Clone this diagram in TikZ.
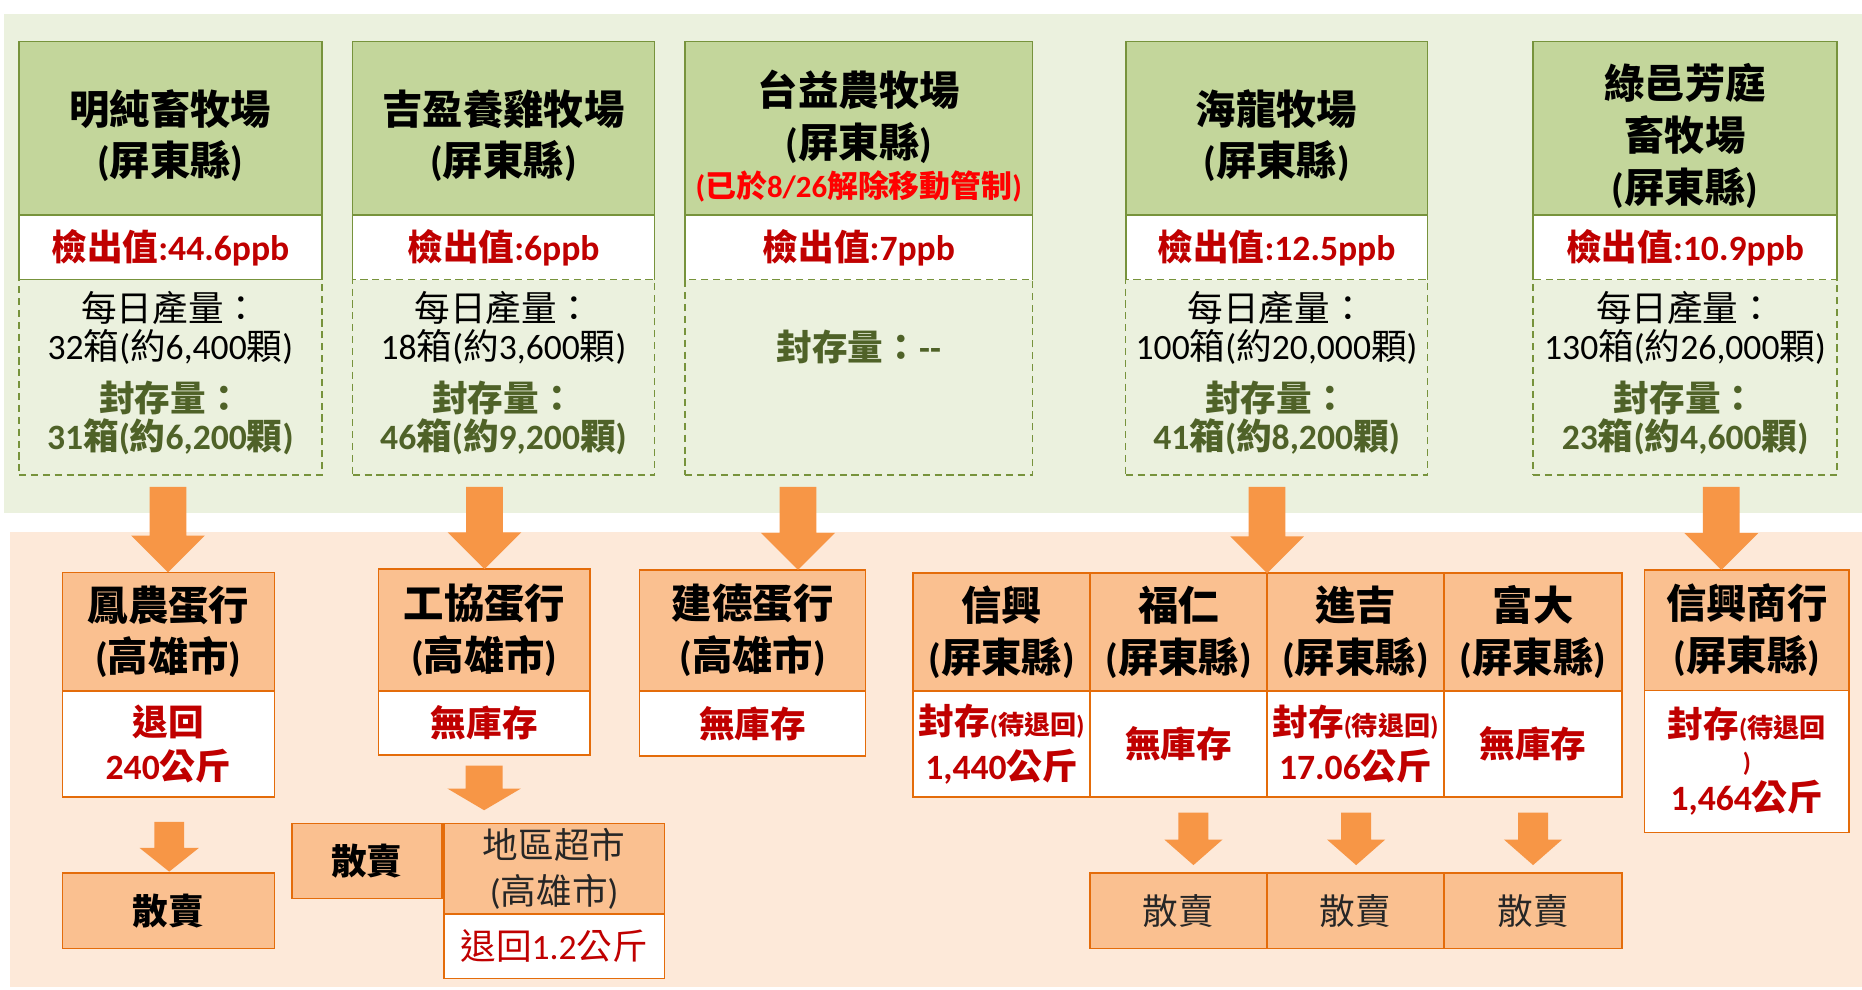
\documentclass[tikz,border=0pt]{standalone}
\usepackage{fontspec}
\setmainfont{Carlito}
\newfontfamily\latfont{Carlito}
\newfontfamily\cjkfont{Noto Sans CJK TC}
\usetikzlibrary{calc}
\XeTeXinterchartokenstate=1
\newXeTeXintercharclass\CJKcls
\newcount\cjkcc
\cjkcc="2E80
\loop \XeTeXcharclass\cjkcc=\CJKcls \advance\cjkcc by 1 \ifnum\cjkcc<"A000 \repeat
\cjkcc="FF00
\loop \XeTeXcharclass\cjkcc=\CJKcls \advance\cjkcc by 1 \ifnum\cjkcc<"FFF0 \repeat
\XeTeXinterchartoks 0 \CJKcls = {\cjkfont}
\XeTeXinterchartoks 4095 \CJKcls = {\cjkfont}
\XeTeXinterchartoks \CJKcls 0 = {\latfont}
\XeTeXinterchartoks \CJKcls 4095 = {\latfont}

\definecolor{cGband}{HTML}{EBF1DE}
\definecolor{cGfill}{HTML}{C3D69B}
\definecolor{cGline}{HTML}{77933C}
\definecolor{cOlive}{HTML}{4F6228}
\definecolor{cDred}{HTML}{C00000}
\definecolor{cBred}{HTML}{FF0000}
\definecolor{cPband}{HTML}{FDE9D9}
\definecolor{cOfill}{HTML}{FAC090}
\definecolor{cOline}{HTML}{E46C0A}
\definecolor{cArrow}{HTML}{F79646}

\tikzset{
 wh/.style 2 args={minimum width=#1pt, minimum height=#2pt},
 gbox/.style={draw=cGline, fill=cGfill, line width=1.3pt, inner sep=0pt, outer sep=0pt},
 gval/.style={draw=cGline, fill=white, line width=1.3pt, inner sep=0pt, outer sep=0pt, font=\bfseries\fontsize{30}{36}\selectfont, text=cDred},
 gvalo/.style={gval, draw=none},
 gside/.style={draw=cGline, line width=1.3pt},
 gdash/.style={draw=cGline, line width=1.2pt, dash pattern=on 6pt off 4pt, inner sep=0pt, outer sep=0pt},
 obox/.style={draw=cOline, fill=cOfill, line width=1.3pt, inner sep=0pt, outer sep=0pt, align=center, font=\bfseries\fontsize{34}{43.5}\selectfont},
 oval/.style={draw=cOline, fill=white, line width=1.3pt, inner sep=0pt, outer sep=0pt, align=center, text=cDred, font=\bfseries\fontsize{30}{37.5}\selectfont},
 sbox/.style={draw=cOline, fill=cOfill, line width=1.3pt, inner sep=0pt, outer sep=0pt, align=center, font=\bfseries\fontsize{30}{36}\selectfont},
 sboxr/.style={draw=cOline, fill=cOfill, line width=1.3pt, inner sep=0pt, outer sep=0pt, align=center, font=\fontsize{30}{39}\selectfont, text=black!85},
 ttl/.style={inner sep=0pt, align=center, font=\bfseries\fontsize{34}{43.5}\selectfont},
 prod/.style={inner sep=0pt, align=center, font=\fontsize{30}{32}\selectfont},
 seal/.style={inner sep=0pt, align=center, font=\bfseries\fontsize{30}{32}\selectfont, text=cOlive},
}
% #1 x, #2 src, #3 dst, #4 top gap, #5 tip gap, #6 shaft half, #7 head half, #8 head length
\newcommand\blkarrow[8]{%
 \fill[cArrow] let \p1=(#2.south), \p2=(#3.north) in
 ({#1pt-#6pt},{\y1-#4pt}) -- ({#1pt+#6pt},{\y1-#4pt}) -- ({#1pt+#6pt},{\y2+#5pt+#8pt}) -- ({#1pt+#7pt},{\y2+#5pt+#8pt}) -- ({#1pt},{\y2+#5pt}) -- ({#1pt-#7pt},{\y2+#5pt+#8pt}) -- ({#1pt-#6pt},{\y2+#5pt+#8pt}) -- cycle;}
\newcommand\sm{\fontsize{22}{26}\selectfont}
\newcommand\threesides[1]{\draw[gside] (#1.south west) -- (#1.north west) -- (#1.north east) -- (#1.south east);}

\begin{document}
\begin{tikzpicture}[x=1pt,y=-1pt]
\useasboundingbox (0,0) rectangle (1568,833);
\fill[white] (0,0) rectangle (1568,833);
\fill[cGband] (3,12) rectangle (1568,432);
\fill[cPband] (8,448) rectangle (1568,831);

% ---- farms ----
\node[gdash, wh={255}{164.5}] (f1d) at (143.5,317.75) {};
\node[gbox, wh={255}{146}] (f1h) at (143.5,108) {};
\node[gval, wh={255}{54.5}] (f1v) at (143.5,208.25) {檢出值:44.6ppb};
\node[ttl] (f1t) at (143.5,114.3) {明純畜牧場\\(屏東縣)};
\node[prod] (f1p) at (143.5,276) {每日產量：\\32箱(約6,400顆)};
\node[seal] (f1s) at (143.5,352) {封存量：\\31箱(約6,200顆)};

\node[gvalo, wh={254}{54.5}] (f2v) at (424,208.25) {檢出值:6ppb};
\node[gdash, wh={254}{164.5}] (f2d) at (424,317.75) {};
\threesides{f2v}
\node[gbox, wh={254}{146}] (f2h) at (424,108) {};
\node[ttl] (f2t) at (424,114.3) {吉盈養雞牧場\\(屏東縣)};
\node[prod] (f2p) at (424,276) {每日產量：\\18箱(約3,600顆)};
\node[seal] (f2s) at (424,352) {封存量：\\46箱(約9,200顆)};

\node[gvalo, wh={292.5}{54.5}] (f3v) at (723.25,208.25) {檢出值:7ppb};
\node[gdash, wh={292.5}{164.5}] (f3d) at (723.25,317.75) {};
\threesides{f3v}
\node[gbox, wh={292.5}{146}] (f3h) at (723.25,108) {};
\node[ttl] (f3t) at (723.25,98.5) {台益農牧場\\(屏東縣)};
\node[inner sep=0pt, font=\bfseries\fontsize{26}{30}\selectfont, text=cBred] (f3n) at (723.25,157) {(已於8/26解除移動管制)};
\node[seal] (f3s) at (723.25,292) {封存量：-{}-};

\node[gvalo, wh={254}{54.5}] (f4v) at (1075,208.25) {檢出值:12.5ppb};
\node[gdash, wh={254}{164.5}] (f4d) at (1075,317.75) {};
\threesides{f4v}
\node[gbox, wh={254}{146}] (f4h) at (1075,108) {};
\node[ttl] (f4t) at (1075,114.3) {海龍牧場\\(屏東縣)};
\node[prod] (f4p) at (1075,276) {每日產量：\\100箱(約20,000顆)};
\node[seal] (f4s) at (1075,352) {封存量：\\41箱(約8,200顆)};

\node[gvalo, wh={256}{54.5}] (f5v) at (1419,208.25) {檢出值:10.9ppb};
\node[gdash, wh={256}{164.5}] (f5d) at (1419,317.75) {};
\threesides{f5v}
\node[gbox, wh={256}{146}] (f5h) at (1419,108) {};
\node[ttl, font=\bfseries\fontsize{34}{44}\selectfont] (f5t) at (1419,114.5) {綠邑芳庭\\畜牧場\\(屏東縣)};
\node[prod] (f5p) at (1419,276) {每日產量：\\130箱(約26,000顆)};
\node[seal] (f5s) at (1419,352) {封存量：\\23箱(約4,600顆)};

% ---- egg dealers ----
\node[obox, wh={178.4}{99.8}] (n1h) at (141.8,531.9) {鳳農蛋行\\(高雄市)};
\node[oval, wh={178.4}{89.2}] (n1v) at (141.8,626.4) {退回\\240公斤};
\node[sbox, wh={178.4}{63.7}] (s1) at (141.8,766.85) {散賣};

\node[obox, wh={178.2}{102.5}] (n2h) at (407.9,530.55) {工協蛋行\\(高雄市)};
\node[oval, wh={178.2}{53.9}] (n2v) at (407.9,608.75) {無庫存};
\node[sbox, wh={126}{63.2}] (s2) at (309,724.9) {散賣};
\node[sboxr, wh={185.4}{76.4}] (mkh) at (466.7,731.5) {地區超市\\(高雄市)};
\node[oval, wh={185.4}{54.3}, font=\fontsize{30}{36}\selectfont] (mkv) at (466.7,796.85) {退回1.2公斤};

\node[obox, wh={190.3}{102}] (n3h) at (633.85,530.8) {建德蛋行\\(高雄市)};
\node[oval, wh={190.3}{54.8}] (n3v) at (633.85,609.2) {無庫存};

\node[obox, wh={149}{99.2}] (t1h) at (843.5,532.3) {信興\\(屏東縣)};
\node[obox, wh={149}{99.2}] (t2h) at (992.5,532.3) {福仁\\(屏東縣)};
\node[obox, wh={149}{99.2}] (t3h) at (1141.5,532.3) {進吉\\(屏東縣)};
\node[obox, wh={150}{99.2}] (t4h) at (1291,532.3) {富大\\(屏東縣)};
\node[oval, wh={149}{89.1}] (t1v) at (843.5,626.45) {封存{\sm(待退回)}\\1,440公斤};
\node[oval, wh={149}{89.1}] (t2v) at (992.5,626.45) {無庫存};
\node[oval, wh={149}{89.1}] (t3v) at (1141.5,626.45) {封存{\sm(待退回)}\\17.06公斤};
\node[oval, wh={150}{89.1}] (t4v) at (1291,626.45) {無庫存};
\node[sboxr, wh={149}{63.7}] (r2) at (992.5,766.85) {散賣};
\node[sboxr, wh={149}{63.7}] (r3) at (1141.5,766.85) {散賣};
\node[sboxr, wh={150}{63.7}] (r4) at (1291,766.85) {散賣};

\node[obox, wh={172}{101.6}] (n8h) at (1471,530.8) {信興商行\\(屏東縣)};
\node[oval, wh={172}{119.4}, font=\bfseries\fontsize{30}{33.6}\selectfont] (n8v) at (1471,641.3) {封存{\sm(待退回}\\[-5.6pt]{\sm)}\\1,464公斤};

% ---- arrows ----
\blkarrow{141.5}{f1d}{n1h}{10}{0}{15.5}{31}{31}
\blkarrow{408}{f2d}{n2h}{10}{0}{15.5}{31}{31}
\blkarrow{672}{f3d}{n3h}{10}{0}{15.5}{31}{31}
\blkarrow{1067}{f4d}{t2h}{10}{0}{15.5}{31}{31}
\blkarrow{1449.5}{f5d}{n8h}{10}{0}{15.5}{31}{31}
\blkarrow{142.5}{n1v}{s1}{21}{1}{12.5}{25}{20}
\blkarrow{407.7}{n2v}{mkh}{9}{11}{15.5}{31}{18.3}
\blkarrow{1005}{t2v}{r2}{13.4}{6.5}{12.6}{24.5}{21.5}
\blkarrow{1142}{t3v}{r3}{13.4}{6.5}{12.6}{24.5}{21.5}
\blkarrow{1291}{t4v}{r4}{13.4}{6.5}{12.6}{24.5}{21.5}
\end{tikzpicture}
\end{document}
